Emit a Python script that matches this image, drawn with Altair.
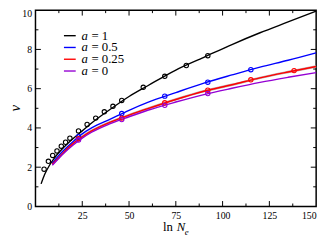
import altair as alt
import pandas as pd

series_names = ["a = 1", "a = 0.5", "a = 0.25", "a = 0"]
series_colors = ["#000000", "#0000ff", "#ff0000", "#9400d3"]
legend_rest = ["= 1", "= 0.5", "= 0.25", "= 0"]

# curves
black_curve_x = [3, 5, 7.5, 10, 15, 20, 25, 30, 40, 50, 60, 75, 90, 105, 120, 135, 150]
black_curve_v = [1.15, 1.65, 2.1, 2.45, 3.0, 3.45, 3.85, 4.25, 4.95, 5.6, 6.15, 6.95, 7.6, 8.25, 8.85, 9.4, 9.95]
color_curve_x = [9, 12, 15, 20, 25, 30, 40, 50, 60, 75, 90, 105, 120, 135, 150]
blue_curve_v = [2.2, 2.55, 2.85, 3.3, 3.7, 4.0, 4.45, 4.9, 5.3, 5.8, 6.28, 6.7, 7.1, 7.45, 7.83]
red_curve_v = [2.15, 2.45, 2.75, 3.2, 3.55, 3.85, 4.3, 4.65, 4.98, 5.45, 5.87, 6.2, 6.55, 6.85, 7.13]
purple_curve_v = [2.1, 2.4, 2.7, 3.12, 3.48, 3.78, 4.22, 4.57, 4.9, 5.32, 5.7, 6.02, 6.32, 6.58, 6.82]

# markers
black_pts_x = [4.6, 6.9, 9.2, 11.5, 13.8, 16.1, 18.4, 23.0, 27.6, 32.2, 36.8, 41.4, 46.1, 57.6, 69.1, 80.6, 92.1]
black_pts_v = [1.9, 2.3, 2.6, 2.83, 3.07, 3.27, 3.48, 3.85, 4.18, 4.5, 4.82, 5.1, 5.4, 6.07, 6.63, 7.18, 7.68]
blue_pts_x = [23.0, 46.1, 69.1, 92.1, 115.1]
blue_pts_v = [3.55, 4.73, 5.62, 6.33, 6.97]
red_pts_x = [23.0, 46.1, 69.1, 92.1, 115.1, 138.2]
red_pts_v = [3.45, 4.5, 5.28, 5.92, 6.45, 6.92]
purple_pts_x = [23.0, 46.1, 69.1, 92.1]
purple_pts_v = [3.38, 4.43, 5.15, 5.75]

x_labels = [25, 50, 75, 100, 125, 150]
y_labels = [0, 2, 4, 6, 8, 10]
x_major = [25, 50, 75, 100, 125]
x_minor = [12.5, 37.5, 62.5, 87.5, 112.5, 137.5]
y_major = [2, 4, 6, 8]
y_minor = [1, 3, 5, 7, 9]

W, H = 286, 200
FONT = "Liberation Serif"

curves = pd.concat([
    pd.DataFrame({"s": series_names[0], "x": black_curve_x, "v": black_curve_v}),
    pd.DataFrame({"s": series_names[1], "x": color_curve_x, "v": blue_curve_v}),
    pd.DataFrame({"s": series_names[2], "x": color_curve_x, "v": red_curve_v}),
    pd.DataFrame({"s": series_names[3], "x": color_curve_x, "v": purple_curve_v}),
])
pts = pd.concat([
    pd.DataFrame({"s": series_names[0], "x": black_pts_x, "v": black_pts_v}),
    pd.DataFrame({"s": series_names[1], "x": blue_pts_x, "v": blue_pts_v}),
    pd.DataFrame({"s": series_names[2], "x": red_pts_x, "v": red_pts_v}),
    pd.DataFrame({"s": series_names[3], "x": purple_pts_x, "v": purple_pts_v}),
])

xs = alt.Scale(domain=[0, 150], nice=False, zero=False)
ys = alt.Scale(domain=[0, 10], nice=False)
cs = alt.Scale(domain=series_names, range=series_colors)

AX = alt.Axis(values=x_labels, title=None, ticks=False, domain=False, grid=False,
              labelFont=FONT, labelFontSize=10, labelColor="black", labelPadding=4)
AY = alt.Axis(values=y_labels, title=None, ticks=False, domain=False, grid=False,
              labelFont=FONT, labelFontSize=10, labelColor="black", labelPadding=4,
              labelOffset={"condition": {"test": "datum.value == 10", "value": 3}, "value": 0})

X = alt.X("x:Q", scale=xs, axis=AX)
Y = alt.Y("v:Q", scale=ys, axis=AY)

shade = alt.Chart(curves[curves.s == series_names[2]]).mark_line(
    interpolate="monotone", strokeWidth=2.4, color="#b8a0a0", opacity=0.9
).encode(x=X, y=Y)

lines = alt.Chart(curves).mark_line(interpolate="monotone", strokeWidth=1.4).encode(
    x=X, y=Y, color=alt.Color("s:N", scale=cs, legend=None), detail="s:N"
)
points = alt.Chart(pts).mark_point(shape="circle", filled=False, size=20, strokeWidth=1.1, opacity=1).encode(
    x=X, y=Y, color=alt.Color("s:N", scale=cs, legend=None)
)

layers = [shade, lines, points]

def xticks(vals, length):
    df = pd.DataFrame({"x": vals})
    bot = alt.Chart(df).mark_rule(color="black", strokeWidth=1).encode(
        x=alt.X("x:Q", scale=xs, axis=AX), y=alt.value(H), y2=alt.value(H - length))
    top = alt.Chart(df).mark_rule(color="black", strokeWidth=1).encode(
        x=alt.X("x:Q", scale=xs, axis=AX), y=alt.value(0), y2=alt.value(length))
    return [bot, top]

def yticks(vals, length):
    df = pd.DataFrame({"v": vals})
    left = alt.Chart(df).mark_rule(color="black", strokeWidth=1).encode(
        y=alt.Y("v:Q", scale=ys, axis=AY), x=alt.value(0), x2=alt.value(length))
    right = alt.Chart(df).mark_rule(color="black", strokeWidth=1).encode(
        y=alt.Y("v:Q", scale=ys, axis=AY), x=alt.value(W), x2=alt.value(W - length))
    return [left, right]

layers += xticks(x_major, 5.5) + xticks(x_minor, 3) + yticks(y_major, 5.5) + yticks(y_minor, 3)

# legend
row_y = [26, 38, 50, 62]
for i in range(4):
    ldf = pd.DataFrame({"name": [series_names[i]], "rest": [legend_rest[i]]})
    layers.append(alt.Chart(ldf).mark_rule(color=series_colors[i], strokeWidth=1.4).encode(
        x=alt.value(29), x2=alt.value(41), y=alt.value(row_y[i])))
    layers.append(alt.Chart(ldf).mark_text(font=FONT, fontSize=13, fontStyle="italic", align="left",
                                           baseline="middle", color="black").encode(
        x=alt.value(47), y=alt.value(row_y[i]), text=alt.value("a")))
    layers.append(alt.Chart(ldf).mark_text(font=FONT, fontSize=13, align="left",
                                           baseline="middle", color="black").encode(
        x=alt.value(57), y=alt.value(row_y[i]), text="rest:N"))

# axis titles
tdf = pd.DataFrame({"k": [0]})
layers.append(alt.Chart(tdf).mark_text(font=FONT, fontSize=13, align="left", baseline="alphabetic",
                                       color="black").encode(
    x=alt.value(130), y=alt.value(225), text=alt.value("ln")))
layers.append(alt.Chart(tdf).mark_text(font=FONT, fontSize=13, fontStyle="italic", align="left",
                                       baseline="alphabetic", color="black").encode(
    x=alt.value(144), y=alt.value(225), text=alt.value("N")))
layers.append(alt.Chart(tdf).mark_text(font=FONT, fontSize=9, fontStyle="italic", align="left",
                                       baseline="alphabetic", color="black").encode(
    x=alt.value(152), y=alt.value(229), text=alt.value("e")))
layers.append(alt.Chart(tdf).mark_text(font=FONT, fontSize=15, fontStyle="italic", align="center",
                                       baseline="middle", color="black", angle=270).encode(
    x=alt.value(-21), y=alt.value(100), text=alt.value("v")))

chart = alt.layer(*layers).properties(
    width=W, height=H,
    autosize=alt.AutoSizeParams(type="none"),
    padding={"left": 28, "top": 0, "right": 8, "bottom": 33},
).configure_view(stroke="black", strokeWidth=1.5)

chart.save("out.html", embed_options={"renderer": "svg", "actions": False})
